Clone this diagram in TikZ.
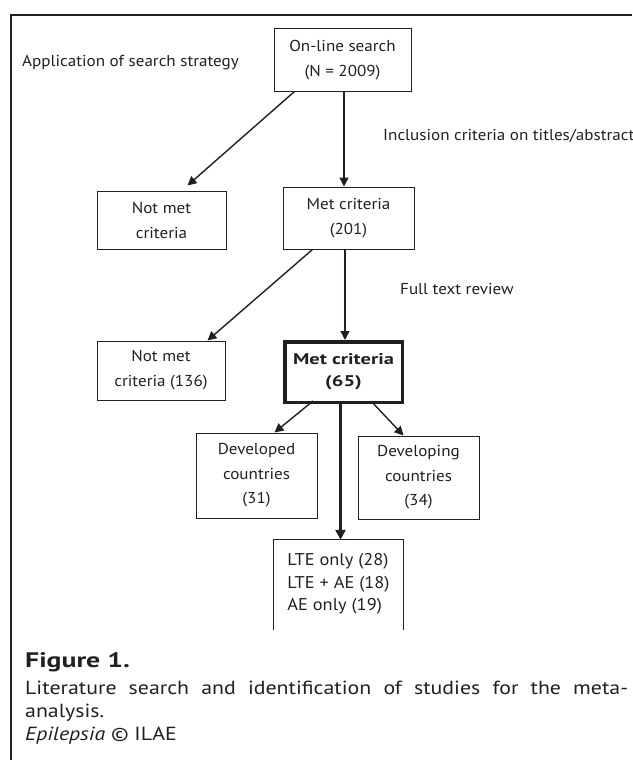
\documentclass[tikz,border=0pt]{standalone}
\usepackage{fontspec}
\setmainfont{PT Sans}[FakeStretch=1.08]
\newfontfamily\capfont{PT Sans}[FakeStretch=1.15]
\newfontfamily\widebold{PT Sans Bold}[FakeStretch=1.32]
\usetikzlibrary{arrows.meta}
\definecolor{ink}{HTML}{231F20}
\begin{document}
\begin{tikzpicture}[x=1pt,y=-1pt,
  txt/.style={font=\fontsize{15.8}{25}\selectfont, text=ink},
  box/.style={txt, draw=ink, line width=1pt, inner sep=0pt, align=center},
  lbl/.style={txt, inner sep=0pt, anchor=west},
  caption/.style={lbl, font=\capfont\fontsize{19}{24}\selectfont},
  arr/.style={draw=ink, line width=1.4pt, -{Triangle[length=9pt,width=9pt]}},
  thickarr/.style={arr, line width=3pt, -{Triangle[length=10pt,width=10pt]}},
]
\useasboundingbox (0,0) rectangle (632,760);
\draw[draw=ink, line width=2.5pt] (11,760) -- (11,15) -- (632,15);

\node[lbl] (app) at (22,63) {Application of search strategy};
\node[lbl] (incl) at (383,136) {Inclusion criteria on titles/abstracts};
\node[lbl] (full) at (400,289) {Full text review};

\node[box, minimum width=137pt, minimum height=62pt] (top) at (342.5,60) {On-line search\\(N = 2009)};
\node[box, minimum width=129pt, minimum height=58pt] (nm1) at (161.5,220) {Not met\\criteria};
\node[box, minimum width=131pt, minimum height=62pt] (m1) at (348.5,218) {Met criteria\\(201)};
\node[box, minimum width=128pt, minimum height=59pt] (nm2) at (161,370.5) {Not met\\criteria (136)};
\node[box, line width=3.5pt, minimum width=117.5pt, minimum height=60.5pt, font=\widebold\fontsize{15.5}{22}\selectfont] (m2) at (343.5,372) {Met criteria\\(65)};
\node[box, minimum width=121pt, minimum height=85pt, font=\fontsize{15.8}{24.5}\selectfont] (dev) at (256.5,475.5) {Developed\\countries\\(31)};
\node[box, minimum width=121pt, minimum height=83pt, font=\fontsize{15.8}{24.5}\selectfont] (dvg) at (418.5,477.5) {Developing\\countries\\(34)};
\node[txt, inner sep=0pt, minimum width=129pt, minimum height=92pt, align=left, font=\fontsize{17}{22.5}\selectfont] (lte) at (338.5,584) {LTE only (28)\\LTE + AE (18)\\AE only (19)};
\draw[draw=ink, line width=1pt] (lte.south west) -- ([yshift=-2pt]lte.north west) -- ([yshift=-2pt]lte.north east) -- (lte.south east);

\draw[arr] ([xshift=21pt]top.south west) -- ([xshift=91pt,yshift=5pt]nm1.north west);
\draw[arr] ([xshift=1.5pt]top.south) -- ([xshift=-4.5pt]m1.north);
\draw[arr] ([xshift=30pt]m1.south west) -- ([xshift=111pt]nm2.north west);
\draw[arr] ([xshift=-3.5pt]m1.south) -- ([xshift=1.5pt]m2.north);
\draw[arr] ([xshift=30pt,yshift=3pt]m2.south west) -- ([xshift=79pt]dev.north west);
\draw[arr] ([xshift=88pt,yshift=3pt]m2.south west) -- ([xshift=46pt]dvg.north west);
\draw[thickarr] ([xshift=-3pt,yshift=3pt]m2.south) -- ([xshift=2pt,yshift=-2pt]lte.north);

\node[lbl, font=\widebold\fontsize{21}{24}\selectfont] (fig) at (25,662) {Figure 1.};
\node[caption] (cap1) at (25,688) {\makebox[603pt][s]{Literature search and identification of studies for the meta-}};
\node[caption] (cap2) at (25,713) {analysis.};
\node[caption] (cap3) at (25,736) {\textit{Epilepsia} \textcopyright\ ILAE};
\end{tikzpicture}
\end{document}
